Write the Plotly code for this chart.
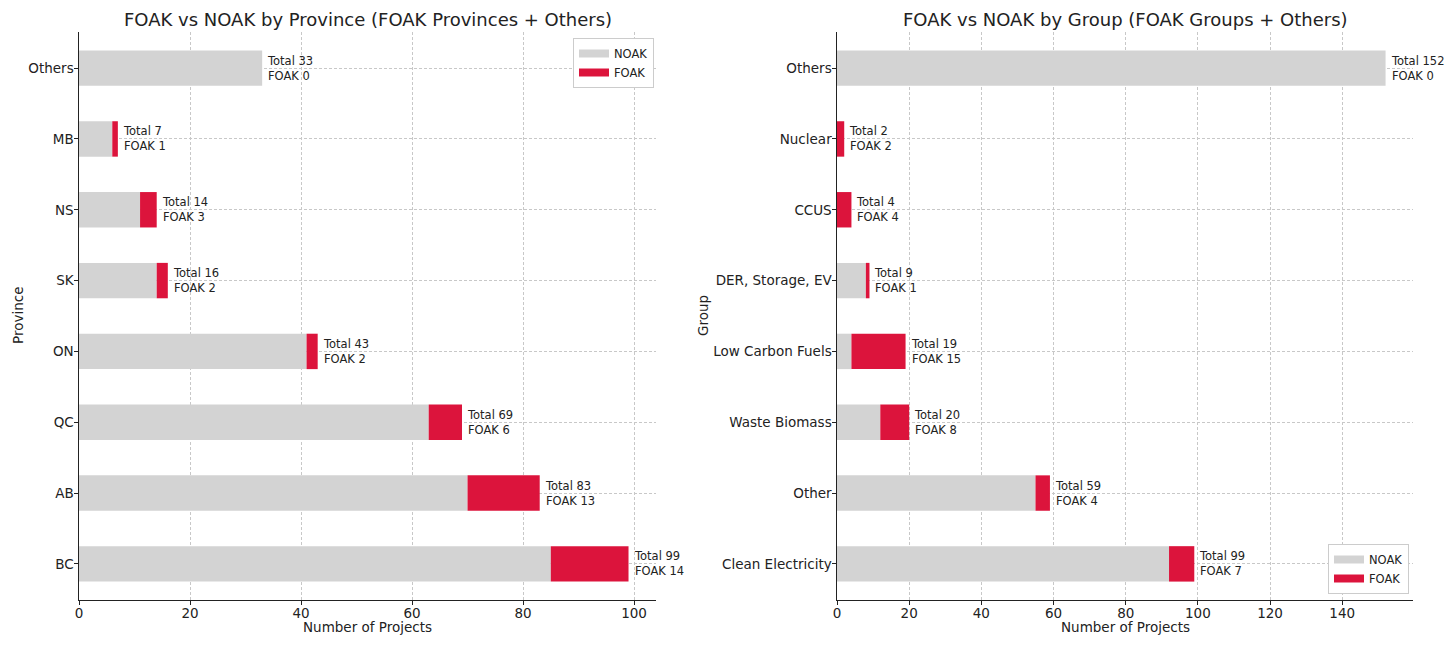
import plotly.graph_objects as go

# Province data (bottom to top)
provinces = ["BC", "AB", "QC", "ON", "SK", "NS", "MB", "Others"]
prov_total = [99, 83, 69, 43, 16, 14, 7, 33]
prov_foak = [14, 13, 6, 2, 2, 3, 1, 0]

# Group data (bottom to top)
groups = ["Clean Electricity", "Other", "Waste Biomass", "Low Carbon Fuels",
          "DER, Storage, EV", "CCUS", "Nuclear", "Others"]
grp_total = [99, 59, 20, 19, 9, 4, 2, 152]
grp_foak = [7, 4, 8, 15, 1, 4, 2, 0]

prov_noak = [t - f for t, f in zip(prov_total, prov_foak)]
grp_noak = [t - f for t, f in zip(grp_total, grp_foak)]

NOAK_C = "#d3d3d3"
FOAK_C = "#dc143c"
FONT = "DejaVu Sans"
TXT = "#222"

fig = go.Figure()


def add_panel(cats, noak, foak, xa, ya, leg):
    ys = list(range(len(cats)))
    fig.add_trace(go.Bar(y=ys, x=noak, orientation="h",
                         marker=dict(color=NOAK_C, line=dict(width=0)), width=0.5,
                         name="NOAK", xaxis=xa, yaxis=ya, showlegend=False))
    fig.add_trace(go.Bar(y=ys, x=foak, orientation="h", base=noak,
                         marker=dict(color=FOAK_C, line=dict(width=0)), width=0.5,
                         name="FOAK", xaxis=xa, yaxis=ya, showlegend=False))
    # legend entries (wide swatches)
    for nm, col in (("NOAK", NOAK_C), ("FOAK", FOAK_C)):
        fig.add_trace(go.Scatter(x=[None], y=[None], mode="lines", name=nm,
                                 line=dict(color=col, width=8),
                                 xaxis=xa, yaxis=ya, legend=leg, hoverinfo="skip"))


add_panel(provinces, prov_noak, prov_foak, "x", "y", "legend")
add_panel(groups, grp_noak, grp_foak, "x2", "y2", "legend2")

annotations = []
for xr, yr, tots, fks in (("x", "y", prov_total, prov_foak), ("x2", "y2", grp_total, grp_foak)):
    for i, (t, f) in enumerate(zip(tots, fks)):
        annotations.append(dict(x=t, y=i, xref=xr, yref=yr, text=f"Total {t}<br>FOAK {f}",
                                showarrow=False, xanchor="left", yanchor="middle", xshift=3,
                                align="left", font=dict(size=11.5, color=TXT, family=FONT)))

# titles & axis labels
annotations += [
    dict(x=(79 + 656) / 2 / 1456, y=1 - 19 / 647, xref="paper", yref="paper",
         text="FOAK vs NOAK by Province (FOAK Provinces + Others)", showarrow=False,
         font=dict(size=18, color=TXT, family=FONT), xanchor="center", yanchor="middle"),
    dict(x=(837 + 1413) / 2 / 1456, y=1 - 19 / 647, xref="paper", yref="paper",
         text="FOAK vs NOAK by Group (FOAK Groups + Others)", showarrow=False,
         font=dict(size=18, color=TXT, family=FONT), xanchor="center", yanchor="middle"),
    dict(x=(79 + 656) / 2 / 1456, y=1 - 627 / 647, xref="paper", yref="paper",
         text="Number of Projects", showarrow=False,
         font=dict(size=13.5, color=TXT, family=FONT), xanchor="center", yanchor="middle"),
    dict(x=(837 + 1413) / 2 / 1456, y=1 - 627 / 647, xref="paper", yref="paper",
         text="Number of Projects", showarrow=False,
         font=dict(size=13.5, color=TXT, family=FONT), xanchor="center", yanchor="middle"),
    dict(x=18 / 1456, y=1 - 316 / 647, xref="paper", yref="paper",
         text="Province", showarrow=False, textangle=-90,
         font=dict(size=13.5, color=TXT, family=FONT), xanchor="center", yanchor="middle"),
    dict(x=703 / 1456, y=1 - 316 / 647, xref="paper", yref="paper",
         text="Group", showarrow=False, textangle=-90,
         font=dict(size=13.5, color=TXT, family=FONT), xanchor="center", yanchor="middle"),
]

grid = dict(showgrid=True, gridcolor="#c8c8c8", griddash="3px,2px", gridwidth=0.8)
axis_common = dict(showline=True, linecolor="#222", linewidth=1.2, ticks="outside",
                   ticklen=3.5, tickcolor="#222", zeroline=False, layer="above traces",
                   automargin=False,
                   tickfont=dict(size=13.5, color=TXT, family=FONT), **grid)

fig.update_layout(
    template="none",
    width=1456, height=647,
    margin=dict(l=0, r=0, t=0, b=0),
    paper_bgcolor="white", plot_bgcolor="white",
    barmode="overlay",
    font=dict(family=FONT, color=TXT),
    xaxis=dict(domain=[79 / 1456, 656 / 1456], range=[0, 103.95], dtick=20,
               anchor="y", ticklabelstandoff=-3, **axis_common),
    yaxis=dict(domain=[1 - 600 / 647, 1 - 32 / 647], range=[-0.51, 7.51],
               tickvals=list(range(len(provinces))), ticktext=provinces,
               anchor="x", ticklabelstandoff=-2, **axis_common),
    xaxis2=dict(domain=[837 / 1456, 1413 / 1456], range=[0, 159.6], dtick=20,
                anchor="y2", ticklabelstandoff=-3, **axis_common),
    yaxis2=dict(domain=[1 - 600 / 647, 1 - 32 / 647], range=[-0.51, 7.51],
                tickvals=list(range(len(groups))), ticktext=groups,
                anchor="x2", ticklabelstandoff=-2, **axis_common),
    legend=dict(x=654 / 1456, y=1 - 38 / 647, xanchor="right", yanchor="top",
                bgcolor="white", bordercolor="#cccccc", borderwidth=1,
                font=dict(size=11.5, color=TXT, family=FONT),
                traceorder="normal", itemwidth=30),
    legend2=dict(x=1409 / 1456, y=1 - 594 / 647, xanchor="right", yanchor="bottom",
                 bgcolor="white", bordercolor="#cccccc", borderwidth=1,
                 font=dict(size=11.5, color=TXT, family=FONT),
                 traceorder="normal", itemwidth=30),
    annotations=annotations,
    showlegend=True,
)

fig.write_html("out.html", config={"displayModeBar": False},
               post_script="document.body.style.margin='0';document.body.style.overflow='hidden';")
